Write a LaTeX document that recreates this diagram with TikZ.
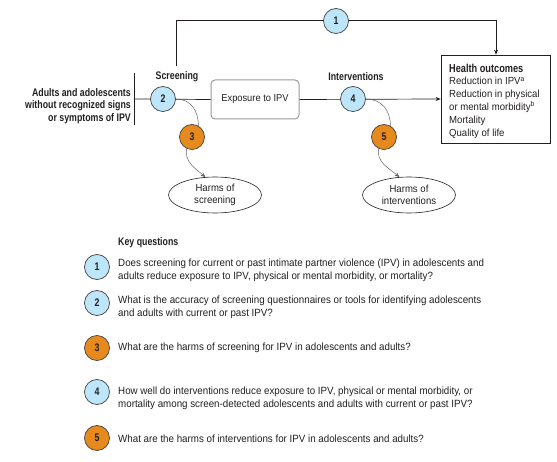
\documentclass[tikz,border=0pt]{standalone}
\usepackage{fontspec}
\setmainfont{Liberation Sans}[FakeStretch=0.93]
\newfontfamily\lblfont{Liberation Sans}[FakeStretch=0.8]
\usetikzlibrary{arrows.meta,shapes.geometric}
\definecolor{qblue}{RGB}{190,230,250}
\definecolor{qorange}{RGB}{230,138,30}
\definecolor{txt}{RGB}{35,31,32}
\tikzset{
  kq/.style={circle,draw=txt!85,line width=0.7pt,minimum size=25pt,inner sep=0pt,font=\lblfont\fontsize{11}{12}\selectfont\bfseries},
  kqb/.style={kq,fill=qblue},
  kqo/.style={kq,fill=qorange},
  lbl/.style={font=\lblfont\fontsize{11}{12.8}\selectfont\bfseries,inner sep=0pt},
  body/.style={font=\fontsize{10.5}{13}\selectfont,inner sep=0pt,align=left,anchor=west},
  conn/.style={line width=0.7pt,draw=txt},
  harm/.style={gray!80!black,line width=0.5pt},
  tip/.style={-{Stealth[length=5pt,width=4pt]}},
  harmnode/.style={ellipse,draw=txt,line width=0.6pt,minimum width=93pt,minimum height=36pt,inner sep=0pt,align=center,font=\fontsize{10.3}{12.5}\selectfont}
}
\begin{document}
\begin{tikzpicture}[x=1pt,y=-1pt,text=txt]
\useasboundingbox (0,0) rectangle (557,462);
% population
\node[lbl,align=right,anchor=east] (pop) at (131,106) {Adults and adolescents\\without recognized signs\\or symptoms of IPV};
\coordinate (bartop) at (134,73);
\coordinate (barbot) at (134,125);
\coordinate (barmid) at (134,99);
\draw[conn] (bartop) -- (barbot);
% nodes
\node[lbl] (scr) at (177,77) {Screening};
\node[lbl] (int) at (356,77) {Interventions};
\node[draw=gray!80,line width=1pt,rounded corners=4pt,minimum width=88pt,minimum height=39pt,font=\fontsize{10}{12}\selectfont] (exp) at (255,99.5) {Exposure to IPV};
\node[draw=txt,line width=0.7pt,minimum width=109pt,minimum height=88pt,inner sep=0pt] (ho) at (495.5,99) {};
\node[anchor=north west,inner sep=0pt,align=left,font=\fontsize{10.3}{12.8}\selectfont] (hot) at (449,63.5) {{\lblfont\fontsize{11.5}{12.8}\selectfont\bfseries Health outcomes}\\Reduction in IPV\textsuperscript{a}\\Reduction in physical\\or mental morbidity\textsuperscript{b}\\Mortality\\Quality of life};
\node[harmnode] (h1) at (215,195) {Harms of\\screening};
\node[harmnode] (h2) at (409,195) {Harms of\\interventions};
% main line
\draw[conn] (barmid) -- (exp.west);
\draw[conn,tip] (exp.east) -- (ho.west);
\coordinate (tl) at (176,20);
\coordinate (tr) at (496,20);
\coordinate (scrtop) at (176,66);
\draw[conn,tip] (scrtop) -- (tl) -- (tr) -- (ho.north -| tr);
% circles
\node[kqb] (c1) at (336,21) {1};
\node[kqb] (c2) at (163,99) {2};
\node[kqo] (c3) at (192,137) {3};
\node[kqb] (c4) at (353,99) {4};
\node[kqo] (c5) at (384,137) {5};
% harm curves
\draw[harm] (c2.east) to[out=0,in=90,looseness=1.1] (c3.60);
\draw[harm,tip] (c3.245) to[out=-100,in=140] (h1.118);
\draw[harm] (c4.east) to[out=0,in=90,looseness=1.1] (c5.60);
\draw[harm,tip] (c5.245) to[out=-100,in=140] (h2.118);
% key questions
\node[lbl,anchor=west] (kqt) at (118,243) {Key questions};
\node[kqb] (k1) at (97,267) {1};
\node[body] (t1) at (118,270) {Does screening for current or past intimate partner violence (IPV) in adolescents and\\adults reduce exposure to IPV, physical or mental morbidity, or mortality?};
\node[kqb] (k2) at (97,303) {2};
\node[body] (t2) at (118,307.5) {What is the accuracy of screening questionnaires or tools for identifying adolescents\\and adults with current or past IPV?};
\node[kqo] (k3) at (97,348) {3};
\node[body] (t3) at (118,347.5) {What are the harms of screening for IPV in adolescents and adults?};
\node[kqb] (k4) at (97,392) {4};
\node[body] (t4) at (118,398) {How well do interventions reduce exposure to IPV, physical or mental morbidity, or\\mortality among screen-detected adolescents and adults with current or past IPV?};
\node[kqo] (k5) at (97,438) {5};
\node[body] (t5) at (118,438.5) {What are the harms of interventions for IPV in adolescents and adults?};
\end{tikzpicture}
\end{document}
